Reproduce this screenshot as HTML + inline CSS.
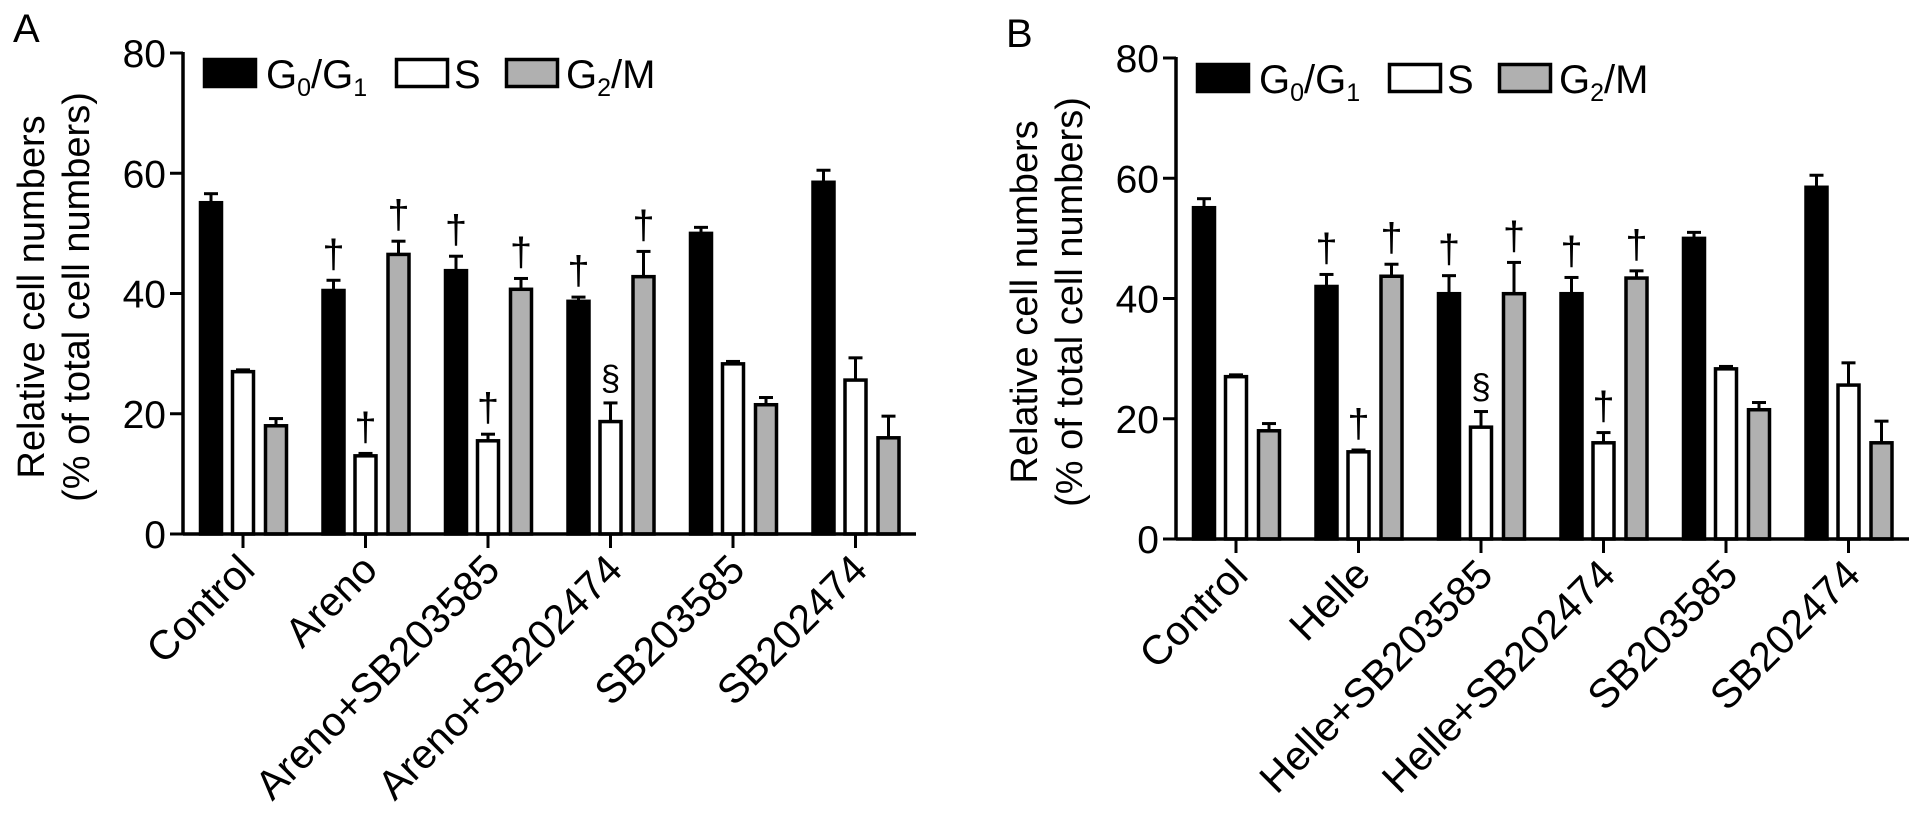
<!DOCTYPE html>
<html><head><meta charset="utf-8"><style>
html,body{margin:0;padding:0;background:#fff;}
svg{display:block;font-family:"Liberation Sans",Arial,sans-serif;}
</style></head><body>
<svg id="chart" width="1913" height="824" viewBox="0 0 1913 824" xmlns="http://www.w3.org/2000/svg"></svg>
<script>
const categoriesA = ["Control","Areno","Areno+SB203585","Areno+SB202474","SB203585","SB202474"];
const categoriesB = ["Control","Helle","Helle+SB203585","Helle+SB202474","SB203585","SB202474"];
const seriesNames = ["G0/G1","S","G2/M"];
const g0A = [55.1, 40.5, 43.8, 38.7, 50.0, 58.5];
const g0ErrA = [56.6, 42.2, 46.2, 39.4, 51.0, 60.5];
const sA = [27.0, 13.0, 15.5, 18.7, 28.3, 25.6];
const sErrA = [27.3, 13.4, 16.6, 21.8, 28.7, 29.3];
const g2A = [18.0, 46.5, 40.7, 42.8, 21.5, 16.0];
const g2ErrA = [19.2, 48.7, 42.5, 47.0, 22.7, 19.6];
const g0B = [55.1, 42.0, 40.8, 40.8, 50.0, 58.5];
const g0ErrB = [56.6, 44.0, 43.8, 43.5, 51.0, 60.5];
const sB = [27.0, 14.5, 18.6, 16.0, 28.3, 25.6];
const sErrB = [27.3, 14.8, 21.2, 17.7, 28.7, 29.3];
const g2B = [18.0, 43.7, 40.8, 43.4, 21.5, 16.0];
const g2ErrB = [19.2, 45.7, 46.0, 44.6, 22.7, 19.6];
const marksA = [["","",""],["†","†","†"],["†","†","†"],["†","§","†"],["","",""],["","",""]];
const marksB = [["","",""],["†","†","†"],["†","§","†"],["†","†","†"],["","",""],["","",""]];
const yTicks = [0,20,40,60,80];

const NS="http://www.w3.org/2000/svg";
const svg=document.getElementById('chart');
function mk(tag,attrs,parent){const e=document.createElementNS(NS,tag);for(const k in attrs)e.setAttribute(k,attrs[k]);(parent||svg).appendChild(e);return e;}

function drawPanel(dx,dy,letter,cats,vals,errs,marks){
  const g=mk('g',{transform:`translate(${dx},${dy})`});
  
  
  const ax=183, y0=534, ppu=(534-53)/80;
  const yS=v=>y0-v*ppu;
  const xS=i=>243+i*122.5;
  const fills=['#000','#fff','#b0b0b0'];
  const offs=[-32,0,33];
  const bw=21;
  const pl=mk('text',{x:13,y:42,'font-size':40},g);pl.textContent=letter;
  
  
  const yt=mk('text',{transform:`translate(44,297) rotate(-90)`,'text-anchor':'middle','font-size':38},g);
  yt.textContent='Relative cell numbers';
  
  
  const yt2=mk('text',{transform:`translate(89,297) rotate(-90)`,'text-anchor':'middle','font-size':38},g);
  yt2.textContent='(% of total cell numbers)';
  
  
  for(let i=0;i<cats.length;i++){
    for(let s=0;s<3;s++){
      const cx=xS(i)+offs[s];
      const v=vals[s][i], e=errs[s][i];
      const el=mk('line',{x1:cx,x2:cx,y1:yS(v),y2:yS(e),stroke:'#000','stroke-width':3},g);
      
      
      const ec=mk('line',{x1:cx-7,x2:cx+7,y1:yS(e),y2:yS(e),stroke:'#000','stroke-width':3},g);
      
      
      const r=mk('rect',{x:cx-bw/2,y:yS(v),width:bw,height:y0-yS(v),fill:fills[s],stroke:'#000','stroke-width':3.5},g);
      
      
      const m=marks[i][s];
      if(m){
        const t=mk('text',{x:cx,y:yS(e)-13,'text-anchor':'middle','font-size':m==='§'?35:40},g);
        t.textContent=m;
        
        
      }
    }
    const tk=mk('line',{x1:xS(i),x2:xS(i),y1:y0,y2:y0+14,stroke:'#000','stroke-width':3},g);
    
    
    const lb=mk('text',{transform:`translate(${xS(i)+14},${y0+38}) rotate(-45)`,'text-anchor':'end','font-size':41},g);
    lb.textContent=cats[i];
    
    
  }
  const yl=mk('line',{x1:ax,x2:ax,y1:yS(80)-1,y2:y0+1.5,stroke:'#000','stroke-width':3.5},g);
  
  
  const xl=mk('line',{x1:ax,x2:916,y1:y0,y2:y0,stroke:'#000','stroke-width':3.5},g);
  
  
  for(const t of yTicks){
    const tl=mk('line',{x1:ax-13,x2:ax,y1:yS(t),y2:yS(t),stroke:'#000','stroke-width':3},g);
    
    
    const tt=mk('text',{x:ax-17,y:yS(t)+14,'text-anchor':'end','font-size':39},g);
    tt.textContent=t;
    
    
  }
  const lx=[203,395,505], tx=[266,454,566];
  for(let s=0;s<3;s++){
    const lr=mk('rect',{x:lx[s]+1.5,y:59.5,width:51,height:27,fill:fills[s],stroke:'#000','stroke-width':3.5},g);
    
    
  }
  const t1=mk('text',{x:tx[0],y:88,'font-size':40},g);
  t1.innerHTML='G<tspan font-size="25" dy="8">0</tspan><tspan dy="-8">/G</tspan><tspan font-size="25" dy="8">1</tspan>';
  
  
  const t2=mk('text',{x:tx[1],y:88,'font-size':40},g);
  t2.textContent='S';
  
  
  const t3=mk('text',{x:tx[2],y:88,'font-size':40},g);
  t3.innerHTML='G<tspan font-size="25" dy="8">2</tspan><tspan dy="-8">/M</tspan>';
  
  
}
drawPanel(0,0,'A',categoriesA,[g0A,sA,g2A],[g0ErrA,sErrA,g2ErrA],marksA);
drawPanel(993,5,'B',categoriesB,[g0B,sB,g2B],[g0ErrB,sErrB,g2ErrB],marksB);
</script>
</body></html>
